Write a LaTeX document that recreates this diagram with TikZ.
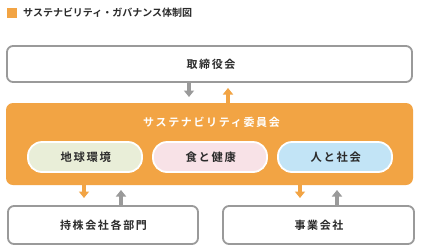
\documentclass[tikz,border=0pt]{standalone}
\usepackage{fontspec}
\newfontfamily\jp{Noto Sans CJK JP Bold}[LetterSpace=15]
\newfontfamily\jpt{Noto Sans CJK JP Bold}
\usetikzlibrary{arrows.meta}
\definecolor{org}{HTML}{F2A444}
\definecolor{gbord}{HTML}{9A9A9A}
\definecolor{txt}{HTML}{2B2B2B}
\definecolor{pgreen}{HTML}{E9EED8}
\definecolor{ppink}{HTML}{F8E2E7}
\definecolor{pblue}{HTML}{C2E4F6}
\begin{document}
\begin{tikzpicture}[x=1pt,y=-1pt,
  wbox/.style={draw=gbord,line width=1.8pt,fill=white,rounded corners=6pt},
  pill/.style={draw=white,line width=1.8pt,rounded corners=14pt},
  lbl/.style={font=\jp\fontsize{11}{14}\selectfont,text=txt},
  plbl/.style={font=\jp\fontsize{11.3}{14}\selectfont,text=txt},
  barr/.style={line width=4pt,-{Triangle[width=10pt,length=6.5pt]}},
]
\useasboundingbox (0,0) rectangle (421,250);
\fill[white] (0,0) rectangle (421,250);
% title
\fill[org] (7,8) rectangle (17,18);
\node[anchor=west,inner sep=0pt,font=\jpt\fontsize{10}{12}\selectfont,text=txt] (title) at (23,13) {サステナビリティ・ガバナンス体制図};
% top box
\draw[wbox] (7,46) rectangle (412,82);
\node[lbl] (board) at (211,64) {取締役会};
% orange committee
\fill[org,rounded corners=7pt] (6,103) rectangle (413,185);
\node[font=\jp\fontsize{11}{14}\selectfont,text=white] (comm) at (211.5,122) {サステナビリティ委員会};
\draw[pill,fill=pgreen] (28,142) rectangle (142,172);
\node[plbl] (p1) at (85.8,157) {地球環境};
\draw[pill,fill=ppink] (153,142) rectangle (267,172);
\node[plbl] (p2) at (210.8,157) {食と健康};
\draw[pill,fill=pblue] (278,142) rectangle (392,172);
\node[plbl] (p3) at (335.8,157) {人と社会};
% bottom boxes
\draw[wbox] (8,206) rectangle (198,244);
\node[lbl] (hold) at (103.5,225) {持株会社各部門};
\draw[wbox] (223,206) rectangle (414,244);
\node[lbl] (biz) at (319,225) {事業会社};
% arrows
\coordinate (a1s) at (189,83); \coordinate (a1e) at (189,97);
\coordinate (a2s) at (228,103); \coordinate (a2e) at (228,88);
\coordinate (a3s) at (84,185); \coordinate (a3e) at (84,198);
\coordinate (a4s) at (121,205); \coordinate (a4e) at (121,190);
\coordinate (a5s) at (300,185); \coordinate (a5e) at (300,198);
\coordinate (a6s) at (337,205); \coordinate (a6e) at (337,190);
\draw[barr,gbord] (a1s) -- (a1e);
\draw[barr,org] (a2s) -- (a2e);
\draw[barr,org] (a3s) -- (a3e);
\draw[barr,gbord] (a4s) -- (a4e);
\draw[barr,org] (a5s) -- (a5e);
\draw[barr,gbord] (a6s) -- (a6e);
\end{tikzpicture}
\end{document}
